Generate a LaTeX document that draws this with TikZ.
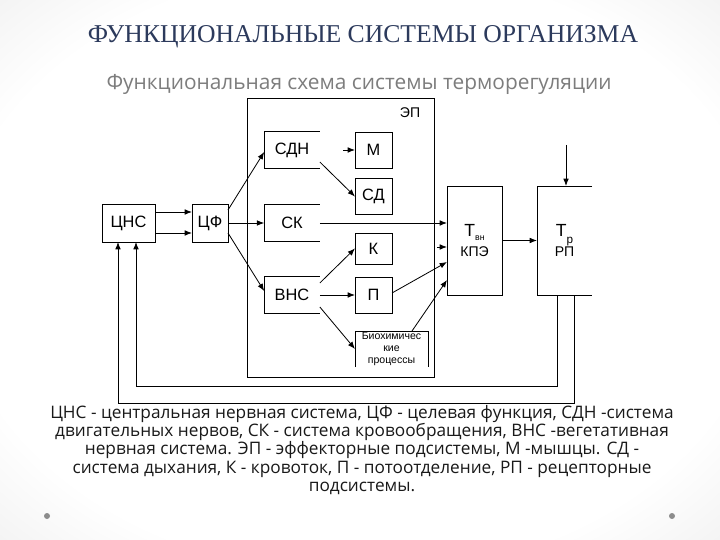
\documentclass[tikz,border=0pt]{standalone}
\usepackage{fontspec}
\setmainfont{Liberation Sans}
\newfontfamily\titlefont{Liberation Serif}
\newfontfamily\gothfont{Open Sans}
\usetikzlibrary{arrows.meta,calc,positioning}
\definecolor{titleblue}{RGB}{44,58,92}
\definecolor{subgray}{RGB}{125,125,125}
\pgfdeclareradialshading{slidebg}{\pgfpoint{0bp}{0bp}}{%
  color(0bp)=(white); color(28bp)=(white); color(50bp)=(black!13); color(100bp)=(black!20)}
\tikzset{
  wire/.style={black, line width=0.7pt},
  flow/.style={wire, -{Latex[length=2.2mm,width=1.7mm]}},
  blk/.style={draw=black, line width=0.7pt, inner sep=0pt, outer sep=0pt,
              align=center, font=\fontsize{14}{16}\selectfont},
  openblk/.style={blk, draw=none},
  sub/.style={openblk, minimum width=1.67cm, minimum height=1.1cm},
  eff/.style={blk, minimum width=1.11cm, minimum height=1.08cm},
  tall/.style={blk, minimum width=1.65cm, minimum height=3.27cm,
               font=\fontsize{12}{17}\selectfont},
  frame/.style={draw=black, line width=0.7pt, inner sep=0pt,
                minimum width=5.61cm, minimum height=8.37cm},
  lab/.style={font=\fontsize{12}{14}\selectfont},
  heading/.style={font=\titlefont\fontsize{21.9}{24}\selectfont, text=titleblue},
  subheading/.style={font=\gothfont\fontsize{17.8}{20}\selectfont, text=subgray},
  legend/.style={font=\gothfont\fontsize{14.7}{15.5}\selectfont, align=center, text=black!90},
}

\begin{document}
\begin{tikzpicture}[x=0.03cm,y=-0.03cm]
  \shade[shading=slidebg] (0,0) rectangle (720,540);
  \fill[black!45] (47,516) circle (3);
  \fill[black!45] (672,516) circle (3);

  \node[heading] (ttl) at (363,37) {ФУНКЦИОНАЛЬНЫЕ СИСТЕМЫ ОРГАНИЗМА};
  \node[subheading] (subttl) at (359,84) {Функциональная схема системы терморегуляции};

  % effector frame
  \node[frame] (ep) at (340.5,237.5) {};
  \node[lab] (eplab) at (410,113) {ЭП};

  % left chain
  \node[blk, minimum width=1.59cm, minimum height=1.14cm] (cns) at (128.5,223) {ЦНС};
  \node[blk, minimum width=1.08cm, minimum height=1.14cm] (cf) at (210,223) {ЦФ};

  % subsystems, open on the right
  \node[sub] (sdn) at (292,150) {СДН};
  \node[sub] (sk) at (292,223) {СК};
  \node[sub] (vns) at (292,295) {ВНС};
  \foreach \n in {sdn,sk,vns}
    \draw[wire] (\n.north east) -- (\n.north west) -- (\n.south west) -- (\n.south east);

  \node[eff] (m) at (373.5,150) {М};
  \node[eff] (sd) at (373.5,196.5) {СД};
  \node[eff, minimum height=0.93cm] (k) at (373.5,248.5) {К};
  \node[eff] (p) at (373.5,295) {П};
  \node[openblk, minimum width=2.19cm, minimum height=1.08cm,
        font=\fontsize{9}{10.2}\selectfont] (bio) at (391.5,349)
    {Биохимичес\\кие\\процессы};
  \draw[wire] (bio.south west) -- (bio.north west) -- (bio.north east) -- (bio.south east);

  % right chain
  \node[tall] (kpe) at (474.5,240.5)
    {{\fontsize{15}{15}\selectfont Т}\raisebox{-0.6ex}{\fontsize{7.5}{7.5}\selectfont вн}\\КПЭ};
  \node[tall, draw=none] (rp) at (564.5,240.5)
    {{\fontsize{15}{15}\selectfont Т}\raisebox{-0.9ex}{\fontsize{10}{10}\selectfont р}\\РП};
  \draw[wire] (rp.north east) -- (rp.north west) -- (rp.south west) -- (rp.south east);

  % connections
  \draw[flow] ($(cns.east)+(0,-11)$) -- ($(cf.west)+(0,-11)$);
  \draw[flow] ($(cns.east)+(0,10)$) -- ($(cf.west)+(0,10)$);
  \draw[flow] ($(cf.east)+(0,-13)$) -- ($(sdn.west)+(0,2)$);
  \draw[flow] (cf.east) -- (sk.west);
  \draw[flow] ($(cf.east)+(0,10)$) -- ($(vns.west)+(0,-4)$);
  \coordinate (mstub) at (343,150);
  \draw[flow] (mstub) -- (m.west);
  \draw[flow] ($(sdn.east)+(0,12)$) -- (sd.west);
  \draw[flow] (sk.east) -- (sk.east -| kpe.west);
  \draw[flow] ($(vns.east)+(0,-12)$) -- (k.west);
  \draw[flow] (vns.east) -- (p.west);
  \draw[flow] ($(vns.east)+(0,12)$) -- (bio.west);
  \coordinate (kstub) at (437,247);
  \draw[flow] (kstub) -- (kstub -| kpe.west);
  \draw[flow] ($(p.east)+(0,-2)$) -- ($(kpe.west)+(0,21.5)$);
  \draw[flow] ($(bio.north east)+(-16,0)$) -- ($(kpe.west)+(0,39.5)$);
  \draw[flow] (kpe.east) -- (rp.west);
  \coordinate (rpin) at (566,145);
  \draw[flow] (rpin) -- (rpin |- rp.north);

  % feedback loops
  \draw[flow] ($(rp.south)+(-7.5,0)$) -- ++(0,91) -| ($(cns.south)+(7.5,0)$);
  \draw[flow] ($(rp.south)+(9.5,0)$) -- ++(0,108) -| ($(cns.south)+(-10.5,0)$);

  \node[legend] (note) at (362,450)
    {ЦНС - центральная нервная система, ЦФ - целевая функция, СДН -система\\
     двигательных нервов, СК - система кровообращения, ВНС -вегетативная\\
     нервная система. ЭП - эффекторные подсистемы, М -мышцы. СД -\\
     система дыхания, К - кровоток, П - потоотделение, РП - рецепторные\\
     подсистемы.};
\end{tikzpicture}
\end{document}
